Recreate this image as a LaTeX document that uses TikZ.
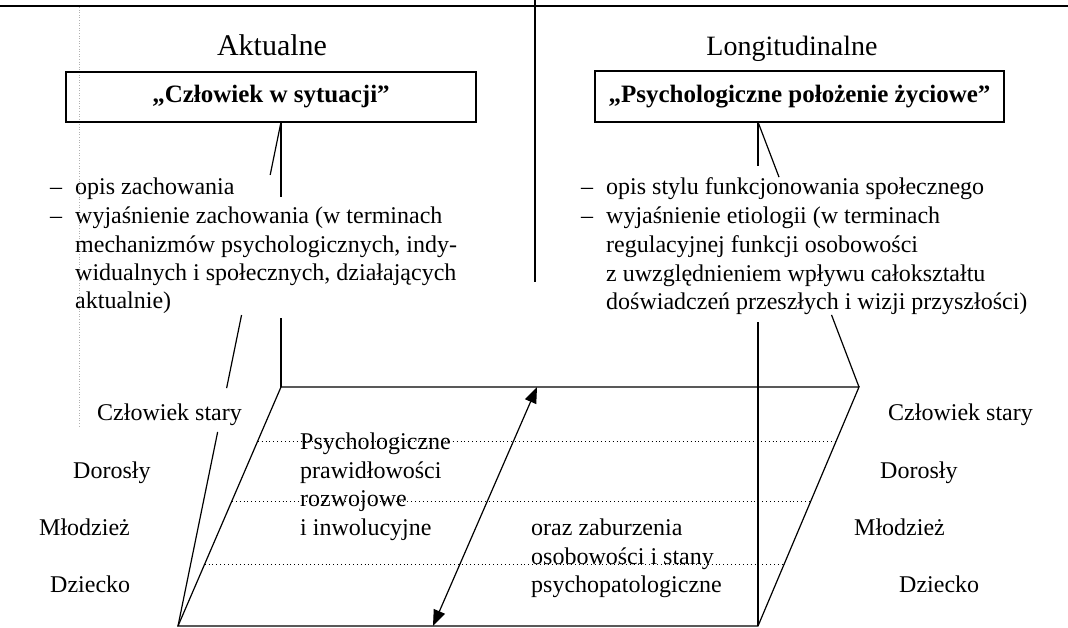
\documentclass[tikz,border=0pt]{standalone}
\usepackage{fontspec}
\setmainfont{Liberation Serif}
\usetikzlibrary{arrows.meta,calc}
\begin{document}
\begin{tikzpicture}[x=1pt,y=-1pt,
  ln/.style={line width=1.2pt},
  dotln/.style={line width=0.9pt, dash pattern=on 0.9pt off 3pt},
  faint/.style={black!30, line width=0.6pt, dash pattern=on 0.6pt off 2pt},
  txt/.style={inner sep=0pt, anchor=base west, font=\fontsize{24}{28}\selectfont},
  hdr/.style={inner sep=0pt, anchor=base, font=\fontsize{28}{32}\selectfont},
  titlebox/.style={draw, line width=1.2pt, inner sep=0pt, font=\fontsize{25}{30}\selectfont\bfseries},
  dblarrow/.style={{Triangle[length=16pt,width=12pt]}-{Triangle[length=16pt,width=12pt]}}
]
\useasboundingbox (0,0) rectangle (1068,627);

% frame lines
\draw[ln] (0,6) -- (1068,6);
\draw[ln] (535,0) -- (535,282);
\draw[faint] (79,7) -- (79,428);

% headers
\node[hdr, font=\fontsize{30}{34}\selectfont] (hA) at (272,55) {Aktualne};
\node[hdr] (hL) at (792,55) {Longitudinalne};

% title boxes
\node[titlebox, minimum width=410pt, minimum height=50pt] (box1) at (271,97) {„Człowiek w sytuacji”};
\node[titlebox, minimum width=409pt, minimum height=51pt] (box2) at (799.5,96.5) {„Psychologiczne położenie życiowe”};

% left description
\node[txt] (l1) at (50,194) {–};
\node[txt] (l1t) at (75,194) {opis zachowania};
\node[txt] (l2) at (50,223) {–};
\node[txt] (l2t) at (75,223) {wyjaśnienie zachowania (w terminach};
\node[txt] (l3) at (75,252) {mechanizmów psychologicznych, indy-};
\node[txt] (l4) at (75,280) {widualnych i społecznych, działających};
\node[txt] (l5) at (75,308) {aktualnie)};

% right description
\node[txt] (r1) at (581,194) {–};
\node[txt] (r1t) at (606,194) {opis stylu funkcjonowania społecznego};
\node[txt] (r2) at (581,223) {–};
\node[txt] (r2t) at (606,223) {wyjaśnienie etiologii (w terminach};
\node[txt] (r3) at (606,252) {regulacyjnej funkcji osobowości};
\node[txt] (r4) at (606,281) {z uwzględnieniem wpływu całokształtu};
\node[txt] (r5) at (606,309) {doświadczeń przeszłych i wizji przyszłości)};

% corner points
\coordinate (b1) at (281,122);
\coordinate (b2) at (758,122);
\coordinate (tl) at (281,387);
\coordinate (tr) at (859,387);
\coordinate (br) at (758,626);
\coordinate (bl) at (178,626);

% parallelogram
\draw[ln] (tl) -- (tr) -- (br) -- (bl) -- cycle;

% left connectors (interrupted by text)
\draw[ln] (b1) -- ($(b1)!0.284!(tl)$);
\draw[ln] ($(b1)!0.740!(tl)$) -- (tl);
\draw[ln] (b1) -- ($(b1)!0.105!(bl)$);
\draw[ln] ($(b1)!0.383!(bl)$) -- ($(b1)!0.528!(bl)$);
\draw[ln] ($(b1)!0.615!(bl)$) -- (bl);

% right connectors
\draw[ln] (b2) -- ($(b2)!0.087!(br)$);
\draw[ln] ($(b2)!0.397!(br)$) -- (br);
\draw[ln] (b2) -- ($(b2)!0.208!(tr)$);
\draw[ln] ($(b2)!0.728!(tr)$) -- (tr);

% dotted age lines
\draw[dotln] ($(tl)!0.226!(bl)$) -- ($(tr)!0.226!(br)$);
\draw[dotln] ($(tl)!0.477!(bl)$) -- ($(tr)!0.477!(br)$);
\draw[dotln] ($(tl)!0.741!(bl)$) -- ($(tr)!0.741!(br)$);

% double arrow
\coordinate (a1) at (537,387);
\coordinate (a2) at (433,626);
\draw[ln, dblarrow] (a2) -- (a1);

% age labels left
\node[txt] (sL) at (97,420) {Człowiek stary};
\node[txt] (dL) at (73,478) {Dorosły};
\node[txt] (mL) at (39,535) {Młodzież};
\node[txt] (cL) at (50,592) {Dziecko};

% age labels right
\node[txt] (sR) at (888,420) {Człowiek stary};
\node[txt] (dR) at (880,478) {Dorosły};
\node[txt] (mR) at (854,535) {Młodzież};
\node[txt] (cR) at (899,592) {Dziecko};

% inner texts
\node[txt] (p1) at (300,449.5) {Psychologiczne};
\node[txt] (p2) at (300,478) {prawidłowości};
\node[txt] (p3) at (300,506.5) {rozwojowe};
\node[txt] (p4) at (300,535) {i inwolucyjne};
\node[txt] (z1) at (531,535) {oraz zaburzenia};
\node[txt] (z2) at (531,564) {osobowości i stany};
\node[txt] (z3) at (531,592) {psychopatologiczne};
\end{tikzpicture}
\end{document}
